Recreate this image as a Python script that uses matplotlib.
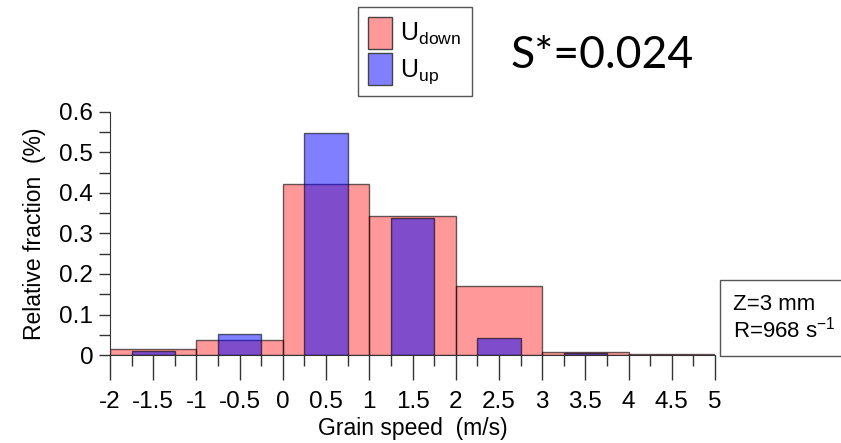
import numpy as np
from matplotlib import pyplot as plt
from matplotlib.patches import Patch
from matplotlib.ticker import MultipleLocator

plt.rcParams['font.family'] = ['Liberation Sans', 'DejaVu Sans']
plt.rcParams['mathtext.fontset'] = 'custom'
plt.rcParams['mathtext.rm'] = 'Liberation Sans'

# U_down: 1 m/s bins from -2 to 5
down_centers = [-1.5, -0.5, 0.5, 1.5, 2.5, 3.5, 4.5]
down_frac = [0.016, 0.037, 0.422, 0.342, 0.171, 0.007, 0.002]
# U_up: 0.5 m/s wide bars at the same centres
up_centers = [-1.5, -0.5, 0.5, 1.5, 2.5, 3.5, 4.5]
up_frac = [0.010, 0.051, 0.547, 0.339, 0.043, 0.005, 0.001]

xticks = np.arange(-2, 5.01, 0.5)
xticklabels = ['-2', '-1.5', '-1', '-0.5', '0', '0.5', '1', '1.5', '2', '2.5',
               '3', '3.5', '4', '4.5', '5']
yticks = np.arange(0, 0.61, 0.1)
yticklabels = ['0', '0.1', '0.2', '0.3', '0.4', '0.5', '0.6']

fig = plt.figure(figsize=(8.41, 4.43), dpi=100)
ax = fig.add_axes([110/841, 1-355/443, 605/841, 243/443])

ax.bar(down_centers, down_frac, width=1.0, color=(1, 0, 0, 0.4),
       edgecolor=(0, 0, 0, 0.6), linewidth=1)
ax.bar(up_centers, up_frac, width=0.5, color=(0, 0, 1, 0.5),
       edgecolor=(0, 0, 0, 0.6), linewidth=1)

ax.set_xlim(-2, 5)
ax.set_ylim(0, 0.6)
for s in ['top', 'right']:
    ax.spines[s].set_visible(False)
for s in ['left', 'bottom']:
    ax.spines[s].set_color('#333333')

ax.set_xticks(xticks)
ax.set_xticklabels(xticklabels)
ax.xaxis.set_minor_locator(MultipleLocator(0.25))
ax.set_yticks(yticks)
ax.set_yticklabels(yticklabels)
ax.yaxis.set_minor_locator(MultipleLocator(0.05))
ax.tick_params(axis='x', which='major', direction='out', length=18, width=1,
               color='#333333', labelsize=17.5, pad=8)
ax.tick_params(axis='x', which='minor', direction='out', length=8, width=1,
               color='#333333')
ax.tick_params(axis='y', which='both', direction='out', length=8, width=1,
               color='#333333', labelsize=17.5, pad=4)

ax.set_xlabel('Grain speed  (m/s)', fontsize=16.5, labelpad=3)
ax.set_ylabel('Relative fraction  (%)', fontsize=16.5, labelpad=10)

handles = [Patch(facecolor='#ff9999', edgecolor='#444444', label=r'U$_{\mathrm{down}}$'),
           Patch(facecolor='#8080ff', edgecolor='#444444', label=r'U$_{\mathrm{up}}$')]
leg = fig.legend(handles=handles, loc='upper left',
                 bbox_to_anchor=(358/841, 1-7/443), borderaxespad=0,
                 fontsize=18, handlelength=0.95, handleheight=1.6,
                 handletextpad=0.35, labelspacing=0.15, borderpad=0.4,
                 fancybox=False, framealpha=1, edgecolor='#555555')
leg.get_frame().set_linewidth(1)

fig.text(510/841, 1-68/443, 'S*=0.024', fontsize=32, family='Lato',
         ha='left', va='baseline')

fig.text(733/841, 1-318/443, 'Z=3 mm\nR=968 s$^{-1}$', fontsize=16,
         ha='left', va='center', linespacing=1.1,
         bbox=dict(boxstyle='square,pad=0.6', facecolor='white',
                   edgecolor='#555555', linewidth=1))

plt.savefig('out.png')
